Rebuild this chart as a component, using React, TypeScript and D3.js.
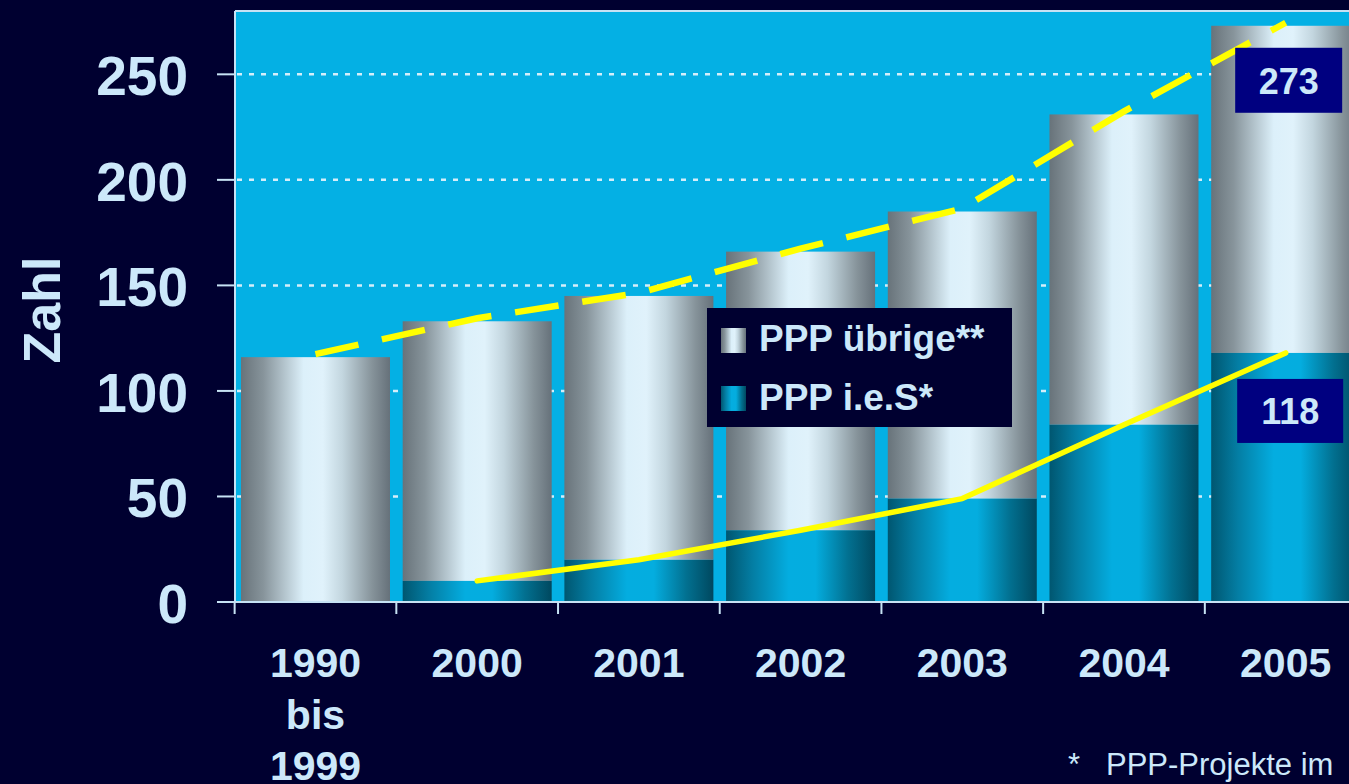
import React, { useEffect } from "react";
import * as d3 from "d3";

const categories = ["1990 bis 1999", "2000", "2001", "2002", "2003", "2004", "2005"];
const categoryLines = [["1990", "bis", "1999"], ["2000"], ["2001"], ["2002"], ["2003"], ["2004"], ["2005"]];
const iesValues = [0, 10, 20, 34, 49, 84, 118];
const uebrigeValues = [116, 123, 125, 132, 136, 147, 155];
const yTicks = [0, 50, 100, 150, 200, 250];
const gridTicks = [50, 100, 150, 200, 250];
const legendLabels = ["PPP übrige**", "PPP i.e.S*"];
const yAxisTitle = "Zahl";
const footnoteStar = "*";
const footnoteText = "PPP-Projekte im";

const W = 1349;
const H = 784;
const BG = "#000030";
const PLOT_BG = "#04b0e4";
const TEXT = "#cce8fa";
const AXIS = "#c6e2f4";
const FONT = "Arial, 'Liberation Sans', Helvetica, sans-serif";

export default function App() {
  useEffect(() => {
    document.body.style.margin = "0";
    document.body.style.overflow = "hidden";
  }, []);

  const left = 235;
  const step = 161.7;
  const x = d3
    .scaleBand<string>()
    .domain(categories)
    .range([left, left + step * (categories.length - 0.0785 + 2 * 0.037)])
    .paddingInner(0.0785)
    .paddingOuter(0.037);
  const y = d3.scaleLinear().domain([0, 280]).range([602, 11]);

  const rows = categories.map((c, i) => ({ cat: c, ies: iesValues[i], uebrige: uebrigeValues[i] }));
  const stack = d3.stack<any>().keys(["ies", "uebrige"]);
  const series = stack(rows);
  const totals = rows.map((r) => r.ies + r.uebrige);

  const bw = x.bandwidth();
  const half = (x.step() - bw) / 2;
  const cx = (c: string) => (x(c) as number) + bw / 2;

  const totalLine = d3
    .line<number>()
    .x((_, i) => cx(categories[i]))
    .y((d) => y(d))
    .curve(d3.curveLinear)(totals);

  const iesLine = d3
    .line<number>()
    .defined((d) => d > 0)
    .x((_, i) => cx(categories[i]))
    .y((d) => y(d))(iesValues);

  const plotRight = (x(categories[categories.length - 1]) as number) + bw + half;
  const lastCat = categories[categories.length - 1];
  const lastX = x(lastCat) as number;
  const lastTotal = totals[totals.length - 1];
  const lastIes = iesValues[iesValues.length - 1];

  const fills = ["url(#gIes)", "url(#gUeb)"];

  return (
    <svg width={W} height={H} style={{ display: "block", background: BG }}>
      <defs>
        <linearGradient id="gUeb" x1="0" x2="1" y1="0" y2="0">
          <stop offset="0" stopColor="#68737a" />
          <stop offset="0.15" stopColor="#87949b" />
          <stop offset="0.42" stopColor="#dcf0fa" />
          <stop offset="0.55" stopColor="#e0f2fb" />
          <stop offset="0.68" stopColor="#c3d6df" />
          <stop offset="0.88" stopColor="#86939a" />
          <stop offset="1" stopColor="#66717a" />
        </linearGradient>
        <linearGradient id="gIes" x1="0" x2="1" y1="0" y2="0">
          <stop offset="0" stopColor="#005670" />
          <stop offset="0.18" stopColor="#047ea4" />
          <stop offset="0.42" stopColor="#04ade0" />
          <stop offset="0.6" stopColor="#04addf" />
          <stop offset="0.82" stopColor="#027090" />
          <stop offset="1" stopColor="#00485f" />
        </linearGradient>
      </defs>
      <rect width={W} height={H} fill={BG} />
      {/* plot background */}
      <rect x={left} y={y(280)} width={plotRight - left} height={y(0) - y(280)} fill={PLOT_BG} />
      <line x1={left} x2={plotRight} y1={y(280)} y2={y(280)} stroke={AXIS} strokeWidth={2} />
      {/* gridlines */}
      {gridTicks.map((t) => (
        <line key={"g" + t} x1={left + 2} x2={plotRight} y1={y(t)} y2={y(t)} stroke="#d4eefa" strokeWidth={2.5} strokeDasharray="5 7" />
      ))}
      {/* bars */}
      {series.map((s, si) => (
        <g key={s.key}>
          {s.map((d, i) =>
            d[1] - d[0] > 0 ? (
              <rect
                key={i}
                x={x(categories[i]) as number}
                y={y(d[1])}
                width={bw}
                height={y(d[0]) - y(d[1])}
                fill={fills[si]}
              />
            ) : null
          )}
        </g>
      ))}
      {/* axes */}
      <line x1={left} x2={left} y1={y(280)} y2={y(0)} stroke={AXIS} strokeWidth={2} />
      <line x1={left - 18} x2={plotRight} y1={y(0)} y2={y(0)} stroke={AXIS} strokeWidth={2} />
      {yTicks.map((t) => (
        <g key={"yt" + t}>
          <line x1={left - 18} x2={left} y1={y(t)} y2={y(t)} stroke={AXIS} strokeWidth={2} />
          <text x={188} y={y(t) + 21} textAnchor="end" fill={TEXT} fontFamily={FONT} fontWeight="bold" fontSize={55}>
            {t}
          </text>
        </g>
      ))}
      {categories.map((c) => (
        <line key={"xt" + c} x1={(x(c) as number) - half} x2={(x(c) as number) - half} y1={y(0)} y2={y(0) + 12} stroke={AXIS} strokeWidth={2} />
      ))}
      {categories.map((c, i) => (
        <text key={"xl" + c} textAnchor="middle" fill={TEXT} fontFamily={FONT} fontWeight="bold" fontSize={41}>
          {categoryLines[i].map((ln, j) => (
            <tspan key={j} x={cx(c)} y={677 + j * 51.5}>
              {ln}
            </tspan>
          ))}
        </text>
      ))}
      {/* lines */}
      <path d={totalLine || ""} transform="translate(0,-3)" fill="none" stroke="#ffff00" strokeWidth={6.5} strokeDasharray="44 24" />
      <path d={iesLine || ""} fill="none" stroke="#ffff00" strokeWidth={5.5} strokeLinecap="round" strokeLinejoin="round" />
      {/* value boxes */}
      <rect x={lastX + 24} y={y(lastTotal) + 22} width={107} height={65} fill="#000080" />
      <text x={lastX + 24 + 53.5} y={y(lastTotal) + 22 + 46} textAnchor="middle" fill={TEXT} fontFamily={FONT} fontWeight="bold" fontSize={36}>
        {lastTotal}
      </text>
      <rect x={lastX + 26} y={y(lastIes) + 26} width={106} height={64} fill="#000080" />
      <text x={lastX + 26 + 53} y={y(lastIes) + 26 + 45} textAnchor="middle" fill={TEXT} fontFamily={FONT} fontWeight="bold" fontSize={36}>
        {lastIes}
      </text>
      {/* legend */}
      <g>
        <rect x={707} y={308} width={305} height={119} fill={BG} />
        <rect x={721} y={328} width={25} height={25} fill="url(#gUeb)" />
        <rect x={721} y={386} width={25} height={25} fill="url(#gIes)" />
        <text x={759} y={351} fill={TEXT} fontFamily={FONT} fontWeight="bold" fontSize={37}>
          {legendLabels[0]}
        </text>
        <text x={759} y={410} fill={TEXT} fontFamily={FONT} fontWeight="bold" fontSize={37}>
          {legendLabels[1]}
        </text>
      </g>
      {/* y axis title */}
      <text transform="translate(60,310) rotate(-90)" textAnchor="middle" fill={TEXT} fontFamily={FONT} fontWeight="bold" fontSize={52}>
        {yAxisTitle}
      </text>
      {/* footnote */}
      <text x={1068} y={775} fill={TEXT} fontFamily={FONT} fontSize={31}>
        {footnoteStar}
      </text>
      <text x={1106} y={775} fill={TEXT} fontFamily={FONT} fontSize={31}>
        {footnoteText}
      </text>
    </svg>
  );
}
